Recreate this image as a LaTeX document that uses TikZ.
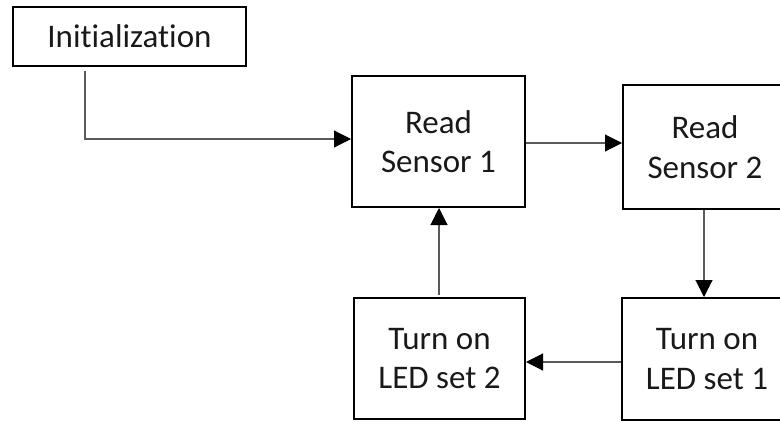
\documentclass[tikz,border=0pt]{standalone}
\usepackage{fontspec}
\setmainfont[Ligatures={NoCommon}]{Carlito}
\usetikzlibrary{arrows.meta}
\begin{document}
\begin{tikzpicture}[x=1pt,y=-1pt,
  box/.style={draw=black,line width=2pt,rectangle,inner sep=0pt,align=center,
    font=\fontsize{33}{39.5}\selectfont,text=black!90},
  conn/.style={draw=black!65,line width=1.1pt,
    -{Triangle[length=17pt,width=17pt,color=black]}}]
\useasboundingbox (0,0) rectangle (780,421);
\clip (0,0) rectangle (780,421);
\node[box,minimum width=233pt,minimum height=59pt] (init) at (129.5,36.5) {Initialization};
\node[box,minimum width=173pt,minimum height=131pt] (rs1) at (438.5,141.5) {Read\\Sensor 1};
\node[box,minimum width=164pt,minimum height=124pt] (rs2) at (705,147) {Read\\Sensor 2};
\node[box,minimum width=170pt,minimum height=122pt] (led1) at (707,359) {Turn on\\LED set 1};
\node[box,minimum width=171pt,minimum height=121pt] (led2) at (439.5,358.5) {Turn on\\LED set 2};
\coordinate (c1) at (85,71);
\coordinate (c2) at (439,295);
\draw[conn] (c1) |- (rs1.west |- 0,139);
\draw[conn] (rs1.east |- 0,143) -- (rs2.west |- 0,143);
\draw[conn] (rs2.south -| 704,0) -- (led1.north -| 704,0);
\draw[conn] (led1.west |- 0,362) -- (led2.east |- 0,362);
\draw[conn] (c2) -- (rs1.south -| c2);
\end{tikzpicture}
\end{document}
